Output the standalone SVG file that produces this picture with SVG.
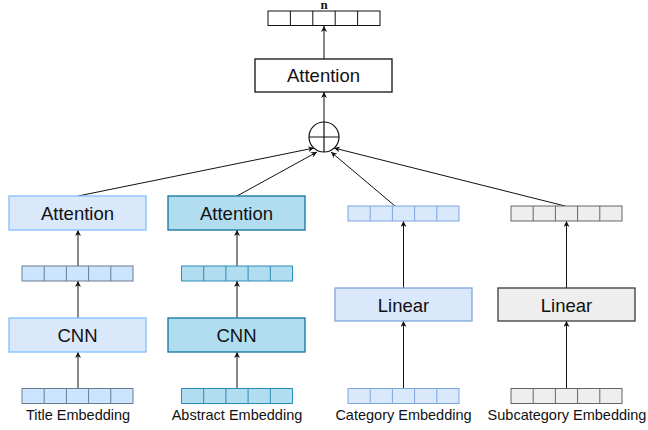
<svg xmlns="http://www.w3.org/2000/svg" width="648" height="430" viewBox="0 0 648 430">
<defs>
<style>
.box{stroke-width:1.3}
.lbl{font-family:"Liberation Sans",Arial,sans-serif;font-size:18.5px;fill:#111;text-anchor:middle}
.cap{font-family:"Liberation Sans",Arial,sans-serif;font-size:14.5px;fill:#111;text-anchor:middle}
.conn{stroke:#111;stroke-width:1;fill:none;marker-end:url(#ah)}
.vw{stroke:#111;stroke-width:1;fill:#fff}
.vt{fill:#cce5ff;stroke:#6b7b8f;stroke-width:1}
.va{fill:#b1ddf0;stroke:#2d8bb7;stroke-width:1}
.vc{fill:#dae8fc;stroke:#7ea6e0;stroke-width:1}
.vs{fill:#eeeeee;stroke:#666;stroke-width:1}
</style>
<marker id="ah" viewBox="0 0 10 10" refX="10" refY="5" markerWidth="6" markerHeight="6" markerUnits="userSpaceOnUse" orient="auto">
<path d="M0,0 L10,5 L0,10 L3,5 Z" fill="#111"/>
</marker>
<g id="vec">
<rect x="0" y="0" width="111" height="15"/>
<path d="M22.2,0V15M44.4,0V15M66.6,0V15M88.8,0V15"/>
</g>
</defs>
<rect width="648" height="430" fill="#fff"/>

<g id="connectors">
<path class="conn" d="M324,59V26"/>
<path class="conn" d="M324,122V92"/>
<path class="conn" d="M78,196L314,148"/>
<path class="conn" d="M237,196L317,152"/>
<path class="conn" d="M395,206L331,152"/>
<path class="conn" d="M565,206L334,148"/>
<path class="conn" d="M78,266V230"/>
<path class="conn" d="M78,318V281"/>
<path class="conn" d="M78,388V352"/>
<path class="conn" d="M237,266V230"/>
<path class="conn" d="M237,318V281"/>
<path class="conn" d="M237,388V352"/>
<path class="conn" d="M403.5,288V221"/>
<path class="conn" d="M403.5,388V321"/>
<path class="conn" d="M566.5,288V221"/>
<path class="conn" d="M566.5,388V321"/>
</g>

<g id="output">
<text x="324" y="9" font-family="Liberation Serif,serif" font-weight="bold" font-size="13" text-anchor="middle" fill="#111">n</text>
<rect class="vw" x="268" y="11" width="112" height="14.5"/>
<path d="M290.4,11V25.5M312.8,11V25.5M335.2,11V25.5M357.6,11V25.5" stroke="#111" stroke-width="1"/>
</g>

<g id="attention-top">
<rect x="255" y="59" width="137" height="33" fill="#fff" stroke="#111" stroke-width="1.3"/>
<text class="lbl" x="323.5" y="82.3">Attention</text>
</g>

<g id="sum">
<circle cx="324" cy="137" r="15" fill="#fff" stroke="#111" stroke-width="1.2"/>
<path d="M324,122V152M309,137H339" stroke="#111" stroke-width="1.2"/>
</g>

<g id="title-attention">
<rect class="box" x="9" y="196" width="137" height="34" fill="#dae8fc" stroke="#7fbfff"/>
<text class="lbl" x="77.5" y="219.8">Attention</text>
</g>
<g id="title-vec">
<use href="#vec" x="22" y="266" class="vt"/>
</g>
<g id="title-cnn">
<rect class="box" x="9" y="318" width="137" height="34" fill="#dae8fc" stroke="#7fbfff"/>
<text class="lbl" x="77.5" y="341.8">CNN</text>
</g>
<g id="title-emb">
<use href="#vec" x="22" y="388.5" class="vt"/>
<text class="cap" x="78" y="420">Title Embedding</text>
</g>

<g id="abstract-attention">
<rect class="box" x="168" y="196" width="137" height="34" fill="#b1ddf0" stroke="#10739e"/>
<text class="lbl" x="236.5" y="219.8">Attention</text>
</g>
<g id="abstract-vec">
<use href="#vec" x="181.5" y="266" class="va"/>
</g>
<g id="abstract-cnn">
<rect class="box" x="168" y="318" width="137" height="34" fill="#b1ddf0" stroke="#10739e"/>
<text class="lbl" x="236.5" y="341.8">CNN</text>
</g>
<g id="abstract-emb">
<use href="#vec" x="181.5" y="388.5" class="va"/>
<text class="cap" x="237" y="420">Abstract Embedding</text>
</g>

<g id="category-vec">
<use href="#vec" x="348" y="206" class="vc"/>
</g>
<g id="category-linear">
<rect class="box" x="335" y="288" width="137" height="33" fill="#dae8fc" stroke="#7ea6e0"/>
<text class="lbl" x="403.5" y="311.5">Linear</text>
</g>
<g id="category-emb">
<use href="#vec" x="348" y="388.5" class="vc"/>
<text class="cap" x="403.5" y="420">Category Embedding</text>
</g>

<g id="subcategory-vec">
<use href="#vec" x="511" y="206" class="vs"/>
</g>
<g id="subcategory-linear">
<rect class="box" x="498" y="288" width="137" height="33" fill="#eeeeee" stroke="#36393d"/>
<text class="lbl" x="566.5" y="311.5">Linear</text>
</g>
<g id="subcategory-emb">
<use href="#vec" x="511" y="388.5" class="vs"/>
<text class="cap" x="567" y="420">Subcategory Embedding</text>
</g>
</svg>
